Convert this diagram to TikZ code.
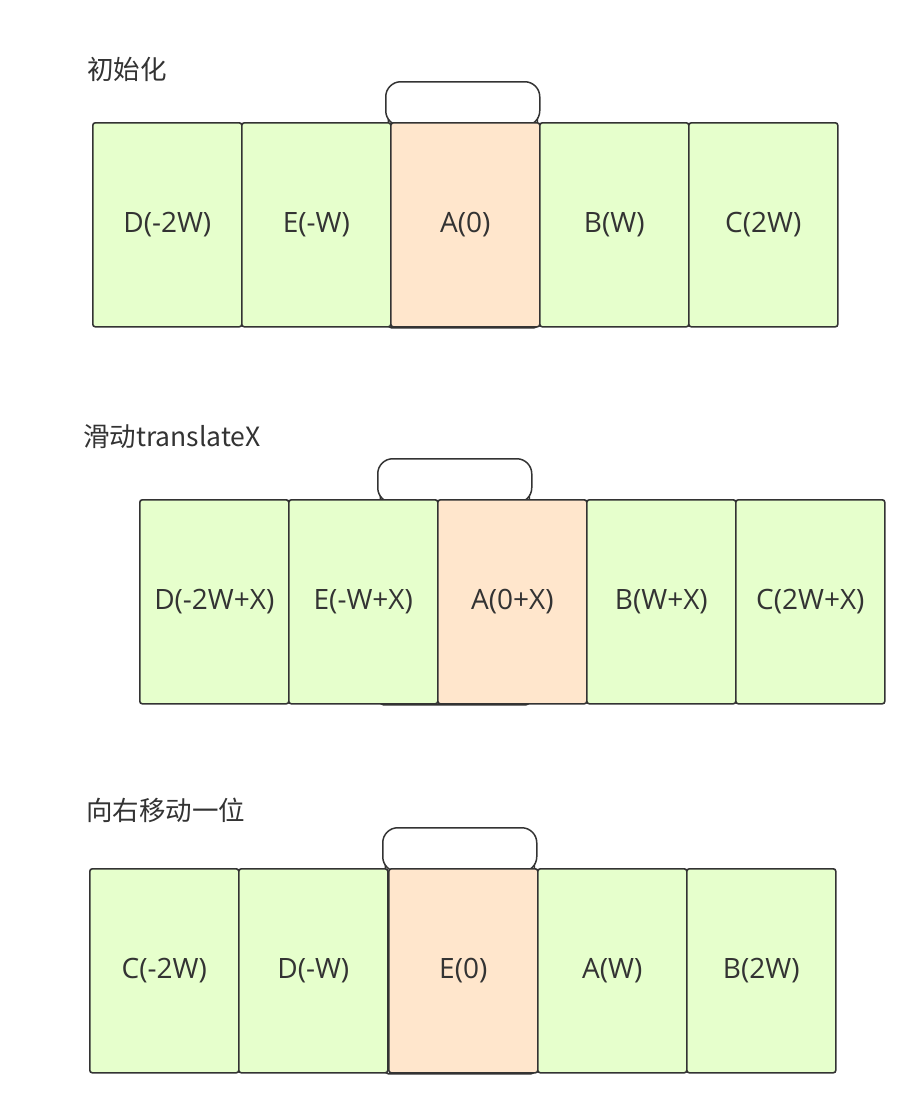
\documentclass[tikz,border=0pt]{standalone}
\usepackage{fontspec}
\setmainfont{Open Sans}
\newfontfamily\cjk{Noto Sans CJK SC}
\definecolor{cardgreen}{HTML}{E6FFCC}
\definecolor{cardorange}{HTML}{FFE6CC}
\definecolor{stroke}{HTML}{333333}
\begin{document}
\begin{tikzpicture}[x=1pt,y=-1pt,
  card/.style={draw=stroke,line width=1.6pt,rounded corners=2.5pt,minimum width=149pt,minimum height=204pt,inner sep=0pt,font=\fontsize{28}{34}\selectfont,text=stroke,anchor=north west},
  green/.style={card,fill=cardgreen},
  orange/.style={card,fill=cardorange},
  vbody/.style={draw=stroke,line width=1.5pt,rounded corners=3pt,fill=white,minimum width=149pt,minimum height=216pt,inner sep=0pt,anchor=north west},
  vcap/.style={draw=stroke,line width=1.5pt,rounded corners=15pt,fill=white,minimum width=154pt,minimum height=44pt,inner sep=0pt,anchor=north west},
  title/.style={anchor=west,inner sep=0pt,font=\cjk\fontsize{26.5}{32}\selectfont,text=stroke}]
\useasboundingbox (0,0) rectangle (915,1103);
% Row 1
\node[title] (t1) at (87,69) {初始化};
\node[vbody] (v1b) at (387.5,111) {};
\node[vcap] (v1) at (385,81) {};
\node[green] (r1d) at (92,122) {D(-2W)};
\node[green] (r1e) at (241,122) {E(-W)};
\node[orange] (r1a) at (390,122) {A(0)};
\node[green] (r1b) at (539,122) {B(W)};
\node[green] (r1c) at (688,122) {C(2W)};
% Row 2
\node[title] (t2) at (83,437) {滑动translateX};
\node[vbody] (v2b) at (379.5,488) {};
\node[vcap] (v2) at (377,458) {};
\node[green] (r2d) at (139,499) {D(-2W+X)};
\node[green] (r2e) at (288,499) {E(-W+X)};
\node[orange] (r2a) at (437,499) {A(0+X)};
\node[green] (r2b) at (586,499) {B(W+X)};
\node[green] (r2c) at (735,499) {C(2W+X)};
% Row 3
\node[title] (t3) at (86,810) {向右移动一位};
\node[vbody] (v3b) at (384.5,857) {};
\node[vcap] (v3) at (382,827) {};
\node[green] (r3c) at (89,868) {C(-2W)};
\node[green] (r3d) at (238,868) {D(-W)};
\node[orange] (r3e) at (388,868) {E(0)};
\node[green] (r3a) at (537,868) {A(W)};
\node[green] (r3b) at (686,868) {B(2W)};
\end{tikzpicture}
\end{document}
